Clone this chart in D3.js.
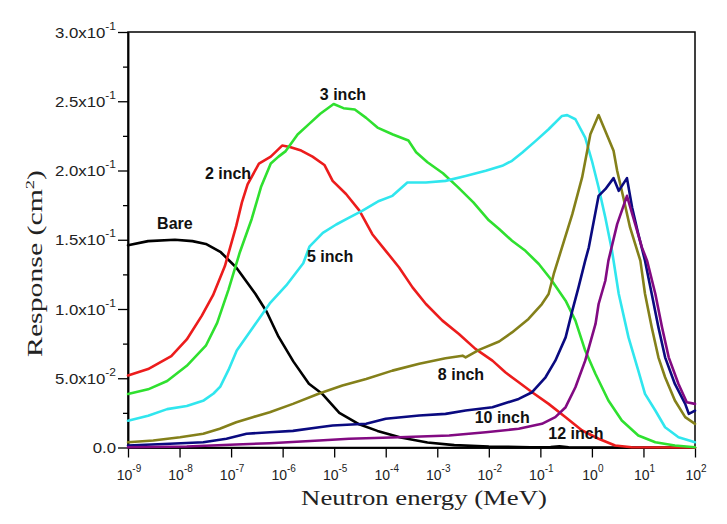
<!DOCTYPE html>
<html><head><meta charset="utf-8">
<script src="https://cdn.jsdelivr.net/npm/d3@7"></script>
<style>
html,body{margin:0;padding:0;background:#fff;}
svg{display:block;}
</style></head>
<body>
<svg id="chart" width="727" height="524"></svg>
<script>
// ---- data: [log10(E / MeV), response (cm^2)] ----
const bare = [[-9,.146],[-8.61,.149],[-8.09,.150],[-7.75,.149],[-7.49,.147],[-7.2,.141],[-6.9,.130],[-6.53,.111],[-6.31,.098],[-6.08,.080],[-5.79,.062],[-5.49,.046],[-5.24,.039],[-4.9,.025],[-4.53,.017],[-4.16,.012],[-3.71,.0072],[-3.19,.0036],[-2.67,.0017],[-2.0,.0007],[-1.19,.0002],[-0.8,.0003],[-0.63,.0008],[-0.45,.0002],[-0.08,0],[2,0]];
const inch2 = [[-9,.052],[-8.61,.0566],[-8.16,.066],[-7.86,.078],[-7.57,.095],[-7.35,.110],[-7.12,.131],[-6.9,.160],[-6.79,.177],[-6.68,.190],[-6.46,.205],[-6.23,.210],[-6.01,.218],[-5.86,.217],[-5.64,.2144],[-5.42,.210],[-5.19,.204],[-5.03,.1925],[-4.77,.183],[-4.51,.171],[-4.26,.154],[-4.0,.142],[-3.74,.130],[-3.48,.1156],[-3.22,.1036],[-2.9,.0916],[-2.58,.082],[-2.26,.0712],[-1.93,.0627],[-1.68,.0543],[-1.42,.0471],[-1.16,.0399],[-0.84,.0315],[-0.51,.0219],[-0.19,.0123],[0.13,.0063],[0.45,.0014],[0.77,.0002],[2,0]];
const inch3 = [[-9,.0386],[-8.61,.042],[-8.24,.048],[-7.86,.059],[-7.49,.0735],[-7.27,.090],[-7.05,.114],[-6.83,.141],[-6.6,.165],[-6.42,.188],[-6.23,.205],[-6.08,.21],[-5.94,.214],[-5.71,.226],[-5.49,.2335],[-5.27,.241],[-5.01,.248],[-4.82,.245],[-4.6,.244],[-4.38,.238],[-4.16,.231],[-3.86,.226],[-3.56,.2216],[-3.41,.2132],[-3.19,.206],[-2.89,.198],[-2.6,.188],[-2.3,.177],[-2.0,.164],[-1.8,.1577],[-1.55,.1493],[-1.29,.142],[-1.03,.1325],[-0.8,.1217],[-0.51,.106],[-0.32,.0916],[-0.13,.07],[0.07,.0531],[0.32,.0339],[0.58,.0195],[0.9,.0087],[1.23,.0038],[1.61,.0014],[2,.0002]];
const inch5 = [[-9,.0193],[-8.61,.0229],[-8.24,.0277],[-7.86,.030],[-7.53,.034],[-7.34,.039],[-7.21,.044],[-7.05,.056],[-6.89,.070],[-6.57,.087],[-6.25,.104],[-5.93,.117],[-5.6,.133],[-5.48,.145],[-5.22,.155],[-4.96,.161],[-4.71,.166],[-4.45,.171],[-4.13,.178],[-3.87,.1817],[-3.58,.1913],[-3.22,.1913],[-2.84,.1925],[-2.45,.196],[-2.06,.1998],[-1.74,.2034],[-1.55,.207],[-1.35,.213],[-1.09,.2214],[-0.84,.2298],[-0.58,.2394],[-0.48,.240],[-0.32,.237],[-0.13,.2238],[0.0,.207],[0.13,.1877],[0.26,.166],[0.39,.142],[0.52,.111],[0.71,.0795],[0.9,.0555],[1.03,.0387],[1.23,.0267],[1.42,.0146],[1.68,.0074],[2,.0038]];
const inch8 = [[-9,.0038],[-8.51,.005],[-7.99,.0074],[-7.54,.0099],[-7.22,.0135],[-6.9,.0182],[-6.58,.0219],[-6.25,.0255],[-5.8,.0315],[-5.29,.039],[-4.84,.0447],[-4.38,.0495],[-3.87,.0555],[-3.35,.0604],[-2.84,.0644],[-2.51,.0663],[-2.45,.0650],[-2.19,.0705],[-1.8,.0765],[-1.55,.0831],[-1.23,.0928],[-0.97,.1036],[-0.84,.1108],[-0.74,.1253],[-0.58,.1445],[-0.38,.1685],[-0.19,.195],[-0.03,.2262],[0.13,.240],[0.26,.2286],[0.42,.2142],[0.49,.1998],[0.61,.1805],[0.74,.1589],[0.94,.1349],[1.03,.111],[1.16,.0868],[1.29,.0651],[1.42,.0507],[1.61,.0339],[1.81,.0219],[2,.0171]];
const inch10 = [[-9,.0014],[-8.19,.0027],[-7.54,.0038],[-7.09,.0063],[-6.7,.0099],[-6.25,.011],[-5.8,.012],[-5.29,.0146],[-5.03,.0159],[-4.38,.0171],[-4.0,.0207],[-3.35,.0231],[-2.84,.0243],[-2.45,.0267],[-1.93,.0291],[-1.42,.0351],[-1.16,.0399],[-0.9,.0507],[-0.71,.0627],[-0.51,.0795],[-0.38,.0988],[-0.26,.1156],[-0.13,.1349],[-0.06,.1445],[0.13,.1817],[0.26,.1865],[0.42,.1945],[0.52,.1853],[0.68,.1945],[0.78,.1733],[0.9,.1541],[1.03,.1349],[1.16,.111],[1.29,.0868],[1.42,.0651],[1.61,.0459],[1.81,.0315],[1.88,.0243],[2,.0267]];
const inch12 = [[-9,.0002],[-7.86,.0007],[-6.9,.0022],[-6.25,.0031],[-5.29,.005],[-4.71,.0063],[-3.74,.0074],[-2.77,.0087],[-2.06,.011],[-1.42,.0135],[-0.97,.0171],[-0.71,.0219],[-0.51,.0291],[-0.32,.0435],[-0.13,.0627],[0.07,.0892],[0.13,.1036],[0.26,.1204],[0.32,.1349],[0.49,.1613],[0.68,.1817],[0.84,.1613],[0.97,.1445],[1.07,.1349],[1.23,.111],[1.36,.0868],[1.49,.0651],[1.68,.0459],[1.84,.0327],[2,.0315]];

const seriesNames = ["Bare","2 inch","3 inch","5 inch","8 inch","10 inch","12 inch"];
const seriesData = [bare, inch2, inch3, inch5, inch8, inch10, inch12];
const seriesColors = ["#000000","#ec1c1c","#2fe02f","#30e6ee","#84801a","#0a0a80","#820a82"];
// label baseline anchor: [log10 E, response]
const labelPos = [[-8.09,.158],[-7.06,.1939],[-4.83,.2509],[-5.08,.1339],[-2.54,.0487],[-1.74,.0177],[-0.31,.0061]];

const xTickExps = [-9,-8,-7,-6,-5,-4,-3,-2,-1,0,1,2];
const yTickVals = [0,0.05,0.10,0.15,0.20,0.25,0.30];
const yTickMant = ["0.0","5.0","1.0","1.5","2.0","2.5","3.0"];
const yTickExp  = [null,"-2","-1","-1","-1","-1","-1"];

const svg = d3.select("#chart");
const x = d3.scaleLog().domain([1e-9,1e2]).range([128,695]);
const y = d3.scaleLinear().domain([0,0.3]).range([447.5,32]);

// frame
svg.append("rect").attr("x",128).attr("y",32).attr("width",567).attr("height",415.5)
  .attr("fill","none").attr("stroke","#000").attr("stroke-width",1.5);

// axes
const majorX = xTickExps.map(e=>Math.pow(10,e));
const minorX = x.ticks().filter(t=>!majorX.some(m=>Math.abs(Math.log10(t)-Math.log10(m))<1e-6));
const gx = svg.append("g").attr("transform","translate(0,447.5)");
gx.call(d3.axisBottom(x).tickValues(majorX).tickSize(10).tickSizeOuter(0).tickFormat(()=>""));
gx.append("g").call(d3.axisBottom(x).tickValues(minorX).tickSize(5).tickSizeOuter(0).tickFormat(()=>""));
const gy = svg.append("g").attr("transform","translate(128,0)");
gy.call(d3.axisLeft(y).tickValues(yTickVals).tickSize(10).tickSizeOuter(0).tickFormat(()=>""));
const yMinor = d3.range(0.025,0.3,0.05);
gy.append("g").call(d3.axisLeft(y).tickValues(yMinor).tickSize(5).tickSizeOuter(0).tickFormat(()=>""));
svg.selectAll(".domain").attr("stroke","#000").attr("stroke-width",1.5);
svg.selectAll(".tick line").attr("stroke","#000").attr("stroke-width",1.3);

// x tick labels
xTickExps.forEach(e=>{
  const t = svg.append("text").attr("x",x(Math.pow(10,e))+1).attr("y",480)
    .attr("text-anchor","middle").attr("font-family","Liberation Sans, Arial, sans-serif")
    .attr("font-size",14).attr("fill","#222");
  t.append("tspan").text("10");
  t.append("tspan").attr("dy",-8).attr("font-size",10).text(String(e));
});

// y tick labels
yTickVals.forEach((v,i)=>{
  const g = svg.append("g").attr("transform",`translate(116,${y(v)+5.5}) scale(1.2,1)`);
  const t = g.append("text").attr("x",0).attr("y",0).attr("text-anchor","end")
    .attr("font-family","Liberation Sans, Arial, sans-serif").attr("font-size",14).attr("fill","#222");
  if (yTickExp[i]) {
    t.append("tspan").text(yTickMant[i]+"x10");
    t.append("tspan").attr("dy",-8).attr("font-size",10).text(yTickExp[i]);
  } else {
    t.append("tspan").text(yTickMant[i]);
  }
});

// series lines
const line = d3.line().x(d=>x(Math.pow(10,d[0]))).y(d=>y(d[1]));
seriesData.forEach((data,i)=>{
  svg.append("path").datum(data).attr("d",line).attr("fill","none")
    .attr("stroke",seriesColors[i]).attr("stroke-width",2.6)
    .attr("stroke-linejoin","round").attr("stroke-linecap","round");
});

// series labels
seriesNames.forEach((n,i)=>{
  svg.append("text").attr("x",x(Math.pow(10,labelPos[i][0]))).attr("y",y(labelPos[i][1]))
    .attr("text-anchor","middle").attr("font-family","Liberation Sans, Arial, sans-serif")
    .attr("font-weight","bold").attr("font-size",16).attr("fill","#111").text(n);
});

// axis titles
function stretchTitle(sel, target){
  const w = sel.node().getBBox().width;
  return target / w;
}
const xt = svg.append("g");
const xtt = xt.append("text").attr("text-anchor","middle")
  .attr("font-family","Liberation Serif, Times New Roman, serif").attr("font-size",21).attr("fill","#222")
  .text("Neutron energy (MeV)");
const sx = stretchTitle(xtt, 246);
xt.attr("transform",`translate(424,505) scale(${sx},1)`);

const yt = svg.append("g");
const ytt = yt.append("text").attr("text-anchor","middle")
  .attr("font-family","Liberation Serif, Times New Roman, serif").attr("font-size",21).attr("fill","#222");
ytt.append("tspan").text("Response (cm");
ytt.append("tspan").attr("dy",-8).attr("font-size",13).text("2");
ytt.append("tspan").attr("dy",8).text(")");
const sy = stretchTitle(ytt, 187);
yt.attr("transform",`translate(42,263.5) rotate(-90) scale(${sy},1)`);
</script>
</body></html>
